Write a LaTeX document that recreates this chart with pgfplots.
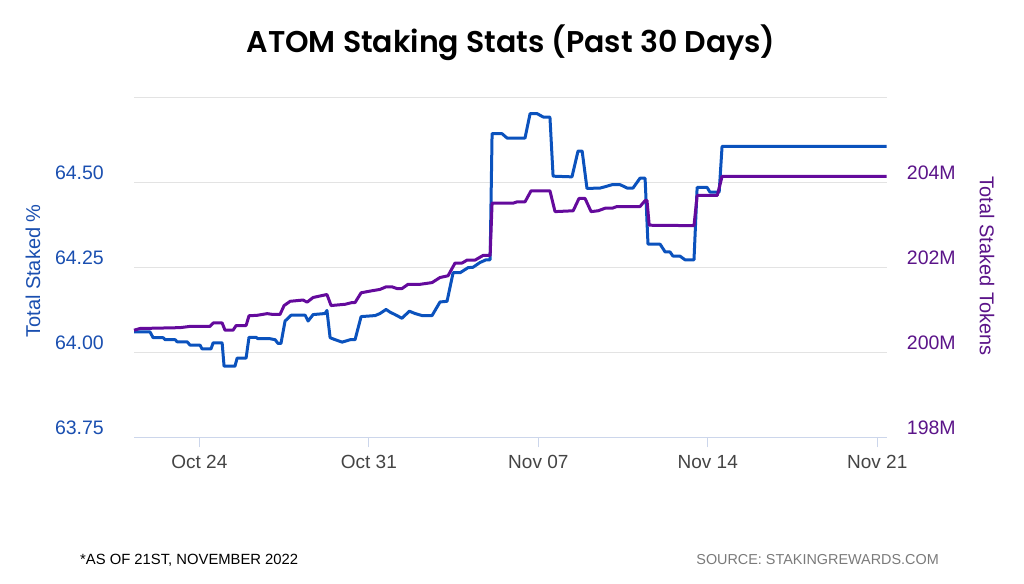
\documentclass[border=0pt]{standalone}
\usepackage{pgfplots}
\pgfplotsset{compat=1.18}
\usepackage{fontspec}
\setmainfont{Liberation Sans}
\newfontfamily\poppins{Poppins SemiBold}
\definecolor{cblue}{HTML}{0B52BD}
\definecolor{cpurple}{HTML}{640A9C}
\definecolor{lblue}{HTML}{1A4FB0}
\definecolor{lpurple}{HTML}{5B1489}
\definecolor{gridc}{HTML}{E3E3E3}
\definecolor{axc}{HTML}{CCD6EB}
\definecolor{tickc}{HTML}{444444}
\begin{document}
\begin{tikzpicture}[x=1pt,y=1pt]
\path[use as bounding box] (0,0) rectangle (1024,583);
\node[font=\poppins\fontsize{30}{35}\selectfont] at (511,540) {ATOM Staking Stats (Past 30 Days)};
\begin{axis}[
  at={(134pt,145.7pt)}, anchor=south west,
  scale only axis, width=752.7pt, height=340pt,
  xmin=-2.70, xmax=28.39, ymin=63.75, ymax=64.75,
  axis x line*=bottom, axis y line*=left,
  x axis line style={draw=axc, line width=1pt, -},
  y axis line style={draw=none},
  xtick={0,7,14,21,28},
  xticklabels={Oct 24,Oct 31,Nov 07,Nov 14,Nov 21},
  xtick style={draw=axc, line width=1pt},
  tick align=outside, major tick length=10pt,
  ytick={63.75,64,64.25,64.5,64.75},
  yticklabels={63.75,64.00,64.25,64.50,},
  ytick style={draw=none},
  ymajorgrids, grid style={draw=gridc, line width=1pt},
  xticklabel style={font=\fontsize{19}{22}\selectfont, text=tickc, inner sep=0pt, yshift=-8pt},
  yticklabel style={font=\fontsize{19.5}{22}\selectfont, text=lblue, inner sep=0pt, anchor=east, xshift=-20pt, yshift=10pt},
  clip=false,
]
\addplot[cblue, line width=3pt, line join=round] coordinates {
(-2.70,64.060) (-2.04,64.060) (-1.91,64.043) (-1.50,64.043) (-1.41,64.037) (-1.00,64.037) (-0.92,64.031) (-0.51,64.031) (-0.38,64.021) (0.03,64.021) (0.11,64.010) (0.48,64.010) (0.57,64.028) (0.94,64.028) (1.02,63.959) (1.47,63.959) (1.56,63.983) (1.93,63.983) (2.05,64.044) (2.34,64.044) (2.42,64.040) (2.92,64.040) (3.13,64.037) (3.25,64.026) (3.37,64.026) (3.54,64.092) (3.79,64.109) (4.37,64.109) (4.49,64.092) (4.70,64.111) (5.19,64.114) (5.27,64.123) (5.40,64.043) (5.61,64.037) (5.90,64.030) (6.23,64.037) (6.43,64.037) (6.68,64.105) (7.26,64.108) (7.46,64.114) (7.71,64.126) (7.88,64.118) (8.08,64.111) (8.37,64.100) (8.67,64.121) (8.91,64.114) (9.20,64.108) (9.61,64.108) (9.94,64.148) (10.23,64.150) (10.48,64.234) (10.77,64.234) (11.10,64.249) (11.30,64.250) (11.59,64.264) (11.84,64.272) (12.01,64.272) (12.09,64.643) (12.50,64.643) (12.71,64.630) (13.45,64.630) (13.66,64.702) (13.95,64.702) (14.20,64.692) (14.48,64.692) (14.61,64.518) (15.39,64.516) (15.64,64.592) (15.81,64.592) (16.01,64.482) (16.55,64.483) (16.76,64.487) (17.05,64.493) (17.38,64.493) (17.67,64.483) (17.91,64.483) (18.20,64.512) (18.41,64.512) (18.53,64.318) (19.03,64.318) (19.24,64.295) (19.44,64.295) (19.56,64.283) (19.85,64.283) (20.06,64.272) (20.43,64.272) (20.56,64.485) (20.97,64.485) (21.09,64.471) (21.47,64.471) (21.59,64.606) (28.39,64.606)
};
\end{axis}
\begin{axis}[
  at={(134pt,145.7pt)}, anchor=south west,
  scale only axis, width=752.7pt, height=340pt,
  xmin=-2.70, xmax=28.39, ymin=198, ymax=206,
  axis x line=none, axis y line*=right,
  y axis line style={draw=none},
  ytick={198,200,202,204},
  yticklabels={198M,200M,202M,204M},
  ytick style={draw=none},
  yticklabel style={font=\fontsize{19.5}{22}\selectfont, text=lpurple, inner sep=0pt, anchor=west, xshift=20pt, yshift=10pt},
  clip=false,
]
\addplot[cpurple, line width=3pt, line join=round] coordinates {
(-2.70,200.52) (-2.45,200.56) (-1.62,200.57) (-0.80,200.58) (-0.38,200.61) (0.44,200.61) (0.57,200.69) (0.94,200.69) (1.06,200.52) (1.39,200.52) (1.52,200.63) (1.93,200.63) (2.05,200.86) (2.38,200.87) (2.80,200.91) (3.04,200.89) (3.33,200.89) (3.50,201.10) (3.75,201.20) (4.28,201.23) (4.45,201.18) (4.70,201.29) (5.27,201.36) (5.44,201.10) (6.02,201.13) (6.30,201.17) (6.43,201.17) (6.68,201.40) (7.05,201.44) (7.46,201.48) (7.71,201.54) (7.96,201.54) (8.16,201.50) (8.37,201.50) (8.62,201.60) (9.12,201.60) (9.61,201.64) (9.94,201.76) (10.27,201.80) (10.56,202.10) (10.85,202.10) (11.06,202.17) (11.39,202.17) (11.72,202.28) (12.01,202.28) (12.09,203.51) (12.96,203.51) (13.12,203.54) (13.45,203.54) (13.70,203.80) (14.48,203.80) (14.69,203.31) (15.44,203.33) (15.68,203.62) (15.93,203.62) (16.18,203.31) (16.47,203.33) (16.76,203.39) (17.05,203.39) (17.25,203.43) (18.20,203.43) (18.41,203.57) (18.49,203.57) (18.58,202.99) (20.43,202.98) (20.56,203.69) (21.39,203.69) (21.59,204.14) (28.39,204.14)
};
\end{axis}
\node[rotate=90, font=\fontsize{20}{24}\selectfont, text=lblue] at (33,583-271) {Total Staked \%};
\node[rotate=-90, font=\fontsize{20}{24}\selectfont, text=lpurple] at (987,583-266) {Total Staked Tokens};
\node[anchor=west, inner sep=0pt, font=\fontsize{14.8}{18}\selectfont, text=black] at (80,583-560) {*AS OF 21ST, NOVEMBER 2022};
\node[anchor=east, inner sep=0pt, font=\fontsize{14.4}{18}\selectfont, text=black!52] at (939,583-560) {SOURCE: STAKINGREWARDS.COM};
\end{tikzpicture}
\end{document}
